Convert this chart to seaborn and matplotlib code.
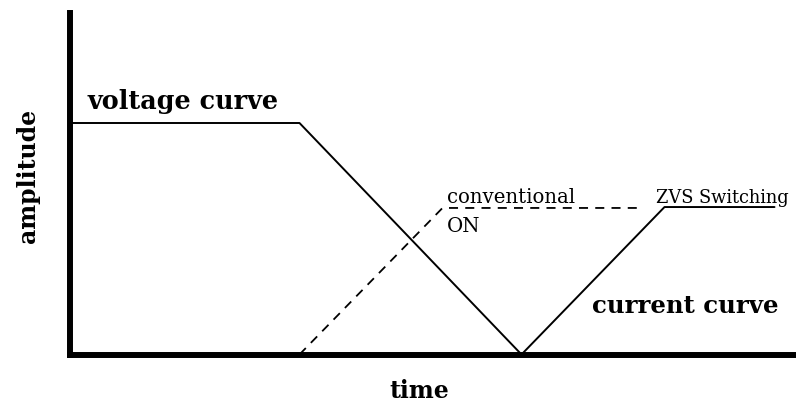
import matplotlib
matplotlib.use("Agg")
import matplotlib.pyplot as plt
import seaborn as sns
import pandas as pd

# Data (time in arbitrary units, amplitude normalised to voltage = 1)
voltage_t = [0.0, 2.30, 4.52]
voltage_a = [1.0, 1.0, 0.0]
conv_t = [2.30, 3.73, 5.70]
conv_a = [0.0, 0.633, 0.633]
zvs_t = [4.52, 5.95, 7.05]
zvs_a = [0.0, 0.637, 0.637]

sns.set_style("white")
plt.rcParams['font.family'] = ['DejaVu Serif']
plt.rcParams['text.color'] = 'black'
plt.rcParams['axes.labelcolor'] = 'black'

fig = plt.figure(figsize=(7.96, 4.05), dpi=100)
W, H = 796, 405
ax = fig.add_axes([69.5 / W, (H - 354.5) / H, 726.5 / W, 341.5 / H])

df_v = pd.DataFrame({"t": voltage_t, "a": voltage_a})
df_c = pd.DataFrame({"t": conv_t, "a": conv_a})
df_z = pd.DataFrame({"t": zvs_t, "a": zvs_a})

sns.lineplot(data=df_v, x="t", y="a", ax=ax, color="black", lw=1.4, sort=False)
sns.lineplot(data=df_c, x="t", y="a", ax=ax, color="black", lw=1.3, sort=False,
             linestyle=(0, (5, 4)))
sns.lineplot(data=df_z, x="t", y="a", ax=ax, color="black", lw=1.4, sort=False)

ax.set_xlim(0, 7.265)
ax.set_ylim(0, 341.5 / 231.5)
ax.set_xticks([])
ax.set_yticks([])
for s in ["top", "right"]:
    ax.spines[s].set_visible(False)
for s in ["left", "bottom"]:
    ax.spines[s].set_linewidth(4.3)
    ax.spines[s].set_color("black")
    ax.spines[s].set_capstyle("projecting")

ax.set_xlabel("time", fontsize=17, fontweight="bold", color="black")
ax.xaxis.set_label_coords((419 - 69.5) / 726.5, -(398 - 354.5) / 341.5)
ax.xaxis.label.set_va("baseline")
ax.set_ylabel("amplitude", fontsize=17, fontweight="bold", color="black")
ax.yaxis.set_label_coords(-(69.5 - 28) / 726.5, (354.5 - 176) / 341.5)
ax.yaxis.label.set_va("center")

ax.text(0.18, 1.062, "voltage curve", fontsize=18.4, fontweight="bold",
        va="baseline", color="black")
ax.text(5.22, 0.18, "current curve", fontsize=17.6, fontweight="bold",
        va="baseline", color="black")
ax.text(3.77, 0.655, "conventional", fontsize=14.2, va="baseline", color="black")
ax.text(3.77, 0.528, "ON", fontsize=14.2, va="baseline", color="black")
ax.text(5.87, 0.655, "ZVS Switching", fontsize=12.8, va="baseline", color="black")

fig.savefig("out.png", dpi=100)
